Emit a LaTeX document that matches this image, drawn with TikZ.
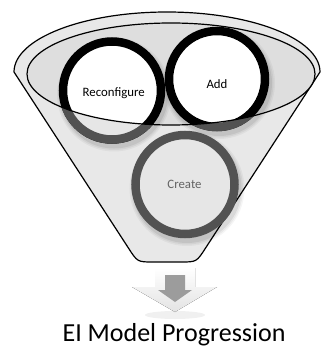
\documentclass[tikz,border=0pt]{standalone}
\usepackage{fontspec}
\setmainfont{Carlito}
\definecolor{funnelgray}{HTML}{E8E8E8}
\definecolor{innergray}{HTML}{DEDEDE}
\definecolor{ringgray}{HTML}{525252}
\definecolor{sunkfill}{HTML}{E6E6E6}
\definecolor{sunktext}{HTML}{636363}
\definecolor{arrowdark}{HTML}{9C9C9C}
\begin{document}
\begin{tikzpicture}[x=1pt,y=-1pt,
  ring/.style={line width=8.5pt, draw=black, fill=white},
  sunkring/.style={line width=8.5pt, draw=ringgray, fill=sunkfill},
  lbl/.style={font=\fontsize{12.8}{15}\selectfont, anchor=base, inner sep=0pt},
  rim/.style={line width=1.2pt, draw=black}]
\useasboundingbox (0,0) rectangle (321,347);

% funnel body with the rim of its mouth
\draw[rim, fill=funnelgray, line join=round]
  (14,72) arc[start angle=180, end angle=0, x radius=153pt, y radius=60pt]
  -- (205.2,248.6) .. controls (196.5,262) .. (180.5,262)
  -- (153.5,262) .. controls (137.5,262) .. (128.8,248.6) -- cycle;

% opening of the funnel
\fill[innergray] (171,74) ellipse[x radius=144pt, y radius=51pt];

% soft shadows cast by the circles
\foreach \cx/\cy/\r in {112/90.5/49, 217/79/48, 185/184.5/49.5}
  \foreach \w/\o in {16/0.04, 13/0.05, 10/0.07}
    \draw[black, opacity=\o, line width=\w pt, shift={(2,4)}]
      (\cx,\cy) circle[radius=\r pt];

% circles resting in the opening
\draw[ring] (112,90.5) circle[radius=49pt];
\draw[ring] (217,79) circle[radius=48pt];

% parts of those circles seen through the front wall
\begin{scope}[even odd rule]
  \clip (0,0) rectangle (321,347)
    (171,74) ellipse[x radius=144pt, y radius=51pt];
  \draw[sunkring] (112,90.5) circle[radius=49pt];
  \draw[sunkring] (217,79) circle[radius=48pt];
\end{scope}

\draw[rim] (171,74) ellipse[x radius=144pt, y radius=51pt];

% circle inside the funnel body
\draw[sunkring] (185,184.5) circle[radius=49.5pt];

\node[lbl] (reconf) at (113.7,97) {Reconfigure};
\node[lbl] (add) at (217,89) {Add};
\node[lbl, text=sunktext] (create) at (184.5,188) {Create};

% output arrow
\fill[black, opacity=0.06] (175,315) ellipse[x radius=30pt, y radius=4pt];
\fill[top color=white, bottom color=gray!22]
  (155,268) -- (195,268) -- (195,287) -- (217,287) -- (175,312)
  -- (132,287) -- (155,287) -- cycle;
\fill[arrowdark]
  (165,275) -- (185,275) -- (185,290) -- (192,290) -- (175,302)
  -- (158,290) -- (165,290) -- cycle;

\node[font=\fontsize{26}{30}\selectfont, anchor=base, inner sep=0pt] (title)
  at (174,341) {EI Model Progression};
\end{tikzpicture}
\end{document}
